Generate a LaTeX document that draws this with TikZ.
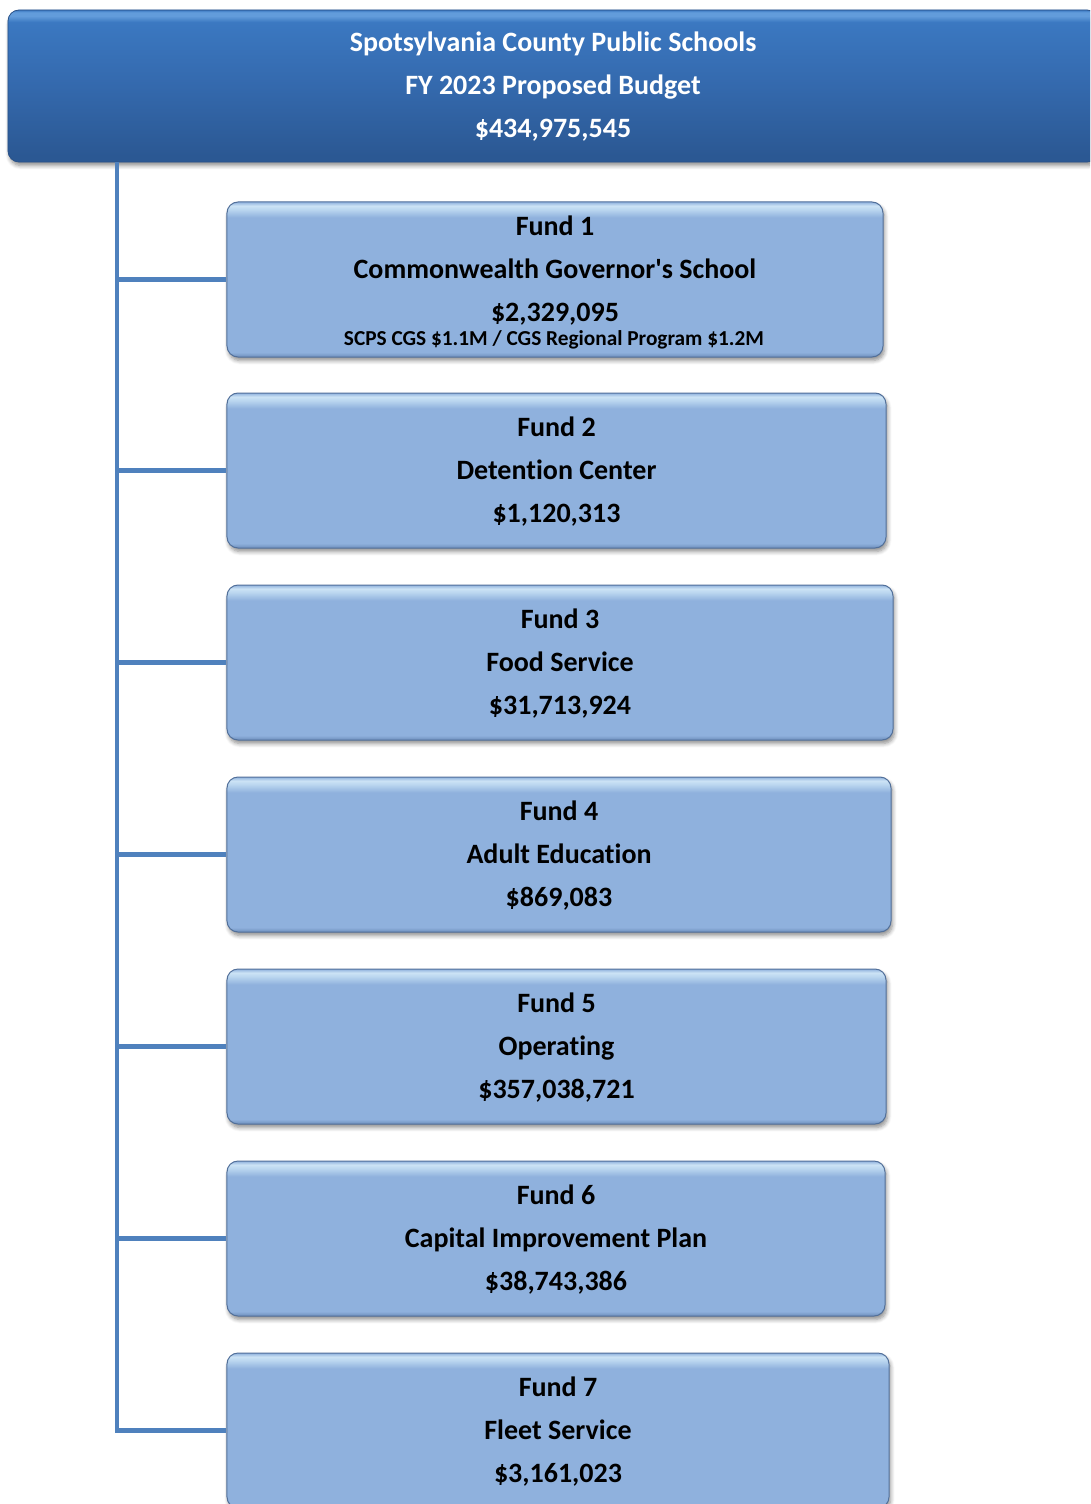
\documentclass[tikz,border=0pt]{standalone}
\usepackage{fontspec}
\setmainfont{Carlito}[Ligatures={TeXOff,NoCommon}]
\usetikzlibrary{shadows.blur}

\definecolor{linkblue}{HTML}{4F81BD}
\definecolor{fundB}{HTML}{6E8EBC}
\definecolor{fundM}{HTML}{8FB1DD}
\definecolor{fundL}{HTML}{B9D5EF}
\definecolor{fundT}{HTML}{CCE3F5}
\definecolor{fundEdge}{HTML}{52709A}
\definecolor{headB}{HTML}{2B5893}
\definecolor{headM}{HTML}{3469AD}
\definecolor{headU}{HTML}{3B78C1}
\definecolor{headL}{HTML}{629CDB}
\definecolor{headEdge}{HTML}{2A5288}

% vertical shadings: the path's bounding box spans 25bp (bottom) to 75bp (top)
\pgfdeclareverticalshading{fundshade}{100bp}{%
  color(0bp)=(fundB); color(25bp)=(fundB); color(26.5bp)=(fundM);
  color(70bp)=(fundM); color(72.5bp)=(fundL); color(73.8bp)=(fundT);
  color(75bp)=(fundM); color(100bp)=(fundM)}
\pgfdeclareverticalshading{headshade}{100bp}{%
  color(0bp)=(headB); color(25bp)=(headB); color(27bp)=(headB);
  color(50bp)=(headM); color(71bp)=(headU); color(73bp)=(headL);
  color(74.2bp)=(headL); color(75bp)=(headU); color(100bp)=(headU)}

\tikzset{
  boxshadow/.style={blur shadow={shadow xshift=1.5bp, shadow yshift=-3.5bp,
      shadow blur radius=4bp, shadow blur steps=6, shadow opacity=45}},
  headbox/.style={rectangle, rounded corners=11bp, shading=headshade,
      draw=headEdge, line width=0.8bp, boxshadow, inner sep=0pt},
  fundbox/.style={rectangle, rounded corners=11bp, shading=fundshade,
      draw=fundEdge, line width=1bp, boxshadow, inner sep=0pt,
      minimum height=155bp},
  headtext/.style={text=white, align=center,
      font=\fontsize{28bp}{43bp}\selectfont\bfseries},
  fundtext/.style={text=black, align=center,
      font=\fontsize{28bp}{43bp}\selectfont\bfseries},
  notetext/.style={text=black, font=\fontsize{21.3bp}{24bp}\selectfont\bfseries},
  link/.style={draw=linkblue, line width=4.5bp}
}

\begin{document}
\begin{tikzpicture}[x=1bp, y=-1bp]
\useasboundingbox (0,0) rectangle (1090,1504);
\clip (0,0) rectangle (1090,1504);

% head of the organisation chart
\node[headbox, minimum width=1090bp, minimum height=152bp] (top) at (553,86) {};
\node[headtext] (toptext) at (553,87)
  {Spotsylvania County Public Schools\\FY 2023 Proposed Budget\\\$434,975,545};

% fund boxes
\node[fundbox, minimum width=656bp] (f1) at (555,279.5) {};
\node[fundtext] (f1t) at (555,270.5)
  {Fund 1\\Commonwealth Governor's School\\\$2,329,095};
\node[notetext] (f1n) at (554,339.5)
  {SCPS CGS \$1.1M / CGS Regional Program \$1.2M};

\node[fundbox, minimum width=659bp] (f2) at (556.5,470.5) {};
\node[fundtext] (f2t) at (556.5,472)
  {Fund 2\\Detention Center\\\$1,120,313};

\node[fundbox, minimum width=666bp] (f3) at (560,662.5) {};
\node[fundtext] (f3t) at (560,664)
  {Fund 3\\Food Service\\\$31,713,924};

\node[fundbox, minimum width=664bp] (f4) at (559,854.5) {};
\node[fundtext] (f4t) at (559,856)
  {Fund 4\\Adult Education\\\$869,083};

\node[fundbox, minimum width=659bp] (f5) at (556.5,1046.5) {};
\node[fundtext] (f5t) at (556.5,1048)
  {Fund 5\\Operating\\\$357,038,721};

\node[fundbox, minimum width=658bp] (f6) at (556,1238.5) {};
\node[fundtext] (f6t) at (556,1240)
  {Fund 6\\Capital Improvement Plan\\\$38,743,386};

\node[fundbox, minimum width=662bp] (f7) at (558,1430.5) {};
\node[fundtext] (f7t) at (558,1432)
  {Fund 7\\Fleet Service\\\$3,161,023};

% trunk line and branches
\coordinate (trunk) at (117,162);
\draw[link] (trunk) |- (f7.west);
\foreach \k in {1,...,6}
  \draw[link] (trunk |- f\k.west) -- (f\k.west);
\end{tikzpicture}
\end{document}
